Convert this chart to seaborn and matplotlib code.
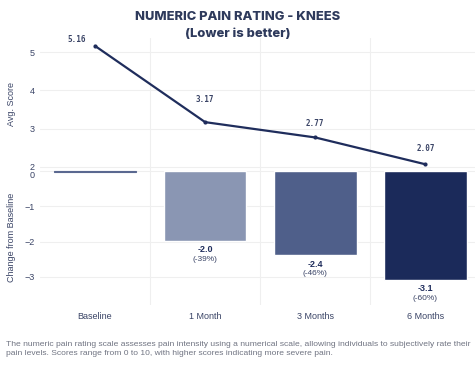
import numpy as np
import pandas as pd
import matplotlib
matplotlib.use("Agg")
import matplotlib.pyplot as plt
import seaborn as sns

# data
periods = ["Baseline", "1 Month", "3 Months", "6 Months"]
avg_score = [5.16, 3.17, 2.77, 2.07]
change = [-0.02, -1.99, -2.39, -3.09]
change_labels = ["", "-2.0", "-2.4", "-3.1"]
pct_labels = ["", "(-39%)", "(-46%)", "(-60%)"]
bar_colors = ["#5a6890", "#8a96b3", "#4f5f8a", "#1b2a5a"]

footnote = ("The numeric pain rating scale assesses pain intensity using a numerical scale, allowing individuals to subjectively rate their\n"
            "pain levels. Scores range from 0 to 10, with higher scores indicating more severe pain.")

sns.set_theme(style="whitegrid")
plt.rcParams["font.family"] = ["Liberation Sans", "DejaVu Sans"]

navy = "#1f2d5c"
text_c = "#3a4466"
grid_c = "#efefef"

df = pd.DataFrame({"Period": periods, "Score": avg_score, "Change": change})

fig = plt.figure(figsize=(4.75, 3.9), dpi=100)
ax1 = fig.add_axes([0.084, 0.564, 0.916, 0.339])
ax2 = fig.add_axes([0.084, 0.218, 0.916, 0.346], sharex=ax1)

# bottom: change from baseline bars
sns.barplot(data=df, x="Period", y="Change", hue="Period", palette=bar_colors,
            width=0.75, legend=False, saturation=1, ax=ax2)
ax2.patches[0].set_edgecolor(bar_colors[0])
ax2.patches[0].set_linewidth(0.8)
for i, (v, lab, pct) in enumerate(zip(change, change_labels, pct_labels)):
    if lab:
        ax2.text(i, v - 0.12, lab, ha="center", va="top", fontsize=6.5,
                 fontweight="bold", color=navy)
        ax2.text(i, v - 0.42, pct, ha="center", va="top", fontsize=6, color=text_c)

# top: average score line
sns.lineplot(data=df, x="Period", y="Score", color=navy, linewidth=1.6,
             marker="o", markersize=3, markeredgewidth=0, sort=False, ax=ax1)
offsets = [(-13, 1), (0, 13), (0, 7), (0, 8)]
for i, (v, off) in enumerate(zip(avg_score, offsets)):
    ax1.annotate(f"{v:.2f}", (i, v), xytext=off, textcoords="offset points",
                 ha="center", va="bottom", fontsize=5.5, fontweight="bold",
                 color=text_c, family="DejaVu Sans Mono")

ax1.set_ylim(1.92, 5.37)
ax1.set_yticks([2, 3, 4, 5])
ax2.set_ylim(-3.8, 0.03)
ax2.set_yticks([0, -1, -2, -3])
ax1.set_xlim(-0.5, 3.45)

for ax in (ax1, ax2):
    for s in ax.spines.values():
        s.set_visible(False)
    ax.set_xlabel("")
    ax.tick_params(axis="both", labelsize=6.5, colors=text_c, length=0, pad=4)
    ax.set_xticks([0.5, 1.5, 2.5], minor=True)
    ax.grid(False)
    ax.grid(axis="y", color=grid_c, linewidth=0.8)
    ax.grid(axis="x", which="minor", color=grid_c, linewidth=0.8)

ax1.tick_params(axis="x", labelbottom=False)
ax2.set_xticks(range(len(periods)))
ax2.set_xticklabels(periods)
ax2.tick_params(axis="x", pad=5)
ax2.get_yticklabels()[0].set_va("top")

ax1.set_ylabel("Avg. Score", fontsize=6.5, color=text_c)
ax2.set_ylabel("Change from Baseline", fontsize=6.5, color=text_c)
ax1.yaxis.set_label_coords(-0.055, 0.5)
ax2.yaxis.set_label_coords(-0.055, 0.5)

fig.text(0.5, 0.972, "NUMERIC PAIN RATING - KNEES\n(Lower is better)", ha="center", va="top",
         fontsize=9.3, fontweight="heavy", color="#2e3a5c", family="Inter", linespacing=1.55)

fig.text(0.012, 0.126, footnote, ha="left", va="top", fontsize=6.1, color="#707482",
         linespacing=1.4)

fig.savefig("out.png", dpi=100, facecolor="white")
